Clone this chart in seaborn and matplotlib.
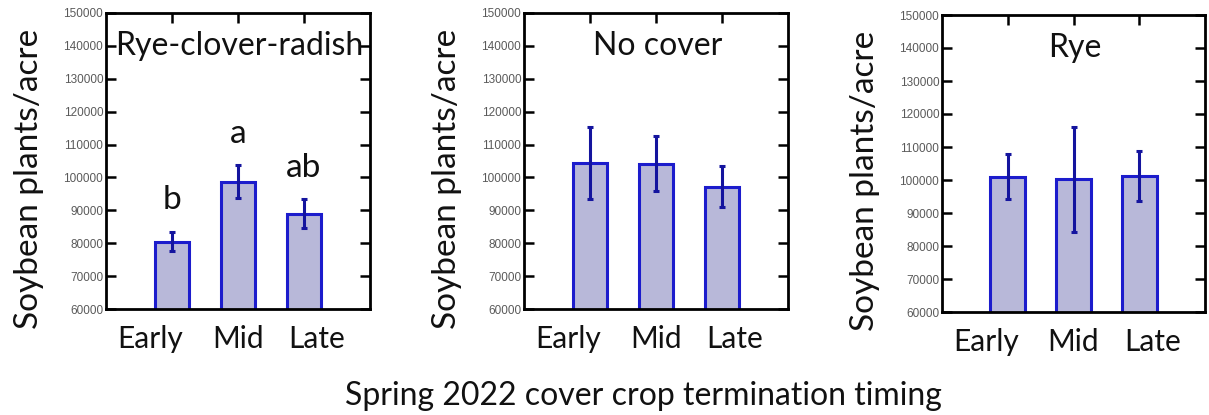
import numpy as np
import pandas as pd
import matplotlib
matplotlib.use("Agg")
import matplotlib.pyplot as plt
import matplotlib.transforms as mtransforms
import seaborn as sns

# Termination timing categories
timing = ["Early", "Mid", "Late"]

# Cover crop treatments (one panel each)
treatments = ["Rye-clover-radish", "No cover", "Rye"]

# Mean soybean stand (plants/acre) per timing
rcr_mean = [80500, 98700, 89000]
nocover_mean = [104400, 104200, 97200]
rye_mean = [101000, 100200, 101200]

# Error bar half-widths
rcr_err = [3000, 5000, 4300]
nocover_err = [11000, 8300, 6200]
rye_err = [6900, 16000, 7700]

# Mean separation letters (only the first treatment differed)
rcr_letters = ["b", "a", "ab"]

y_ticks = list(range(60000, 150001, 10000))

means = [rcr_mean, nocover_mean, rye_mean]
errs = [rcr_err, nocover_err, rye_err]
letters = [rcr_letters, None, None]

df = pd.DataFrame({
    "treatment": np.repeat(treatments, len(timing)),
    "timing": timing * len(treatments),
    "plants": np.concatenate(means),
    "err": np.concatenate(errs),
})

sns.set_theme(style="white")
plt.rcParams["font.family"] = ["Lato", "DejaVu Sans"]

fig = plt.figure(figsize=(12.09, 4.15), dpi=100)
W, H = 1209, 415
boxes = [(106, 13, 370, 309), (524, 13, 788, 309), (942, 15, 1205, 312)]

face = "#b8b8d9"
edge = "#1c1ccc"
errc = "#14149e"

# horizontal nudges (pixels) for the timing labels under the bars
label_shift = [-22, 0, 13]

for i, (name, box) in enumerate(zip(treatments, boxes)):
    x0, y0, x1, y1 = box
    ax = fig.add_axes([x0 / W, 1 - y1 / H, (x1 - x0) / W, (y1 - y0) / H])
    sub = df[df["treatment"] == name]
    sns.barplot(data=sub, x="timing", y="plants", order=timing, ax=ax,
                color=face, saturation=1, width=0.53, errorbar=None,
                edgecolor=edge, linewidth=2.2)
    xs = np.arange(len(timing))
    ax.errorbar(xs, sub["plants"].values, yerr=sub["err"].values, fmt="none",
                ecolor=errc, elinewidth=2.2, capsize=2.2, capthick=2.2, zorder=5)
    ax.set_xlim(-1, 3)
    ax.set_ylim(60000, 150000)
    ax.set_yticks(y_ticks)
    ax.set_yticklabels([str(t) for t in y_ticks], family="Liberation Sans",
                       fontsize=8.5, color="#5a5a5a")
    ax.set_xticks(xs)
    ax.set_xticklabels([])
    # timing labels, drawn as text so each can be nudged sideways
    base = mtransforms.blended_transform_factory(ax.transData, ax.transAxes)
    for x, lab, dx in zip(xs, timing, label_shift):
        tr = base + mtransforms.ScaledTranslation(dx / 100, -15.5 / 100, fig.dpi_scale_trans)
        ax.text(x, 0, lab, transform=tr, ha="center", va="top",
                fontsize=21.5, color="#111111")
    ax.set_xlabel("")
    ax.set_ylabel("Soybean plants/acre", fontsize=24, color="#111111")
    ax.yaxis.set_label_coords(-0.235, 0.44)
    ax.tick_params(axis="y", which="both", direction="in", length=7, width=1.8,
                   left=True, right=True, pad=2, color="black")
    ax.tick_params(axis="x", direction="in", length=7, width=1.8,
                   top=True, bottom=False, color="black")
    for s in ax.spines.values():
        s.set_visible(True)
        s.set_color("black")
        s.set_linewidth(2.0)
    ax.text(0.505, 0.89, name, transform=ax.transAxes, ha="center", va="center",
            fontsize=23, color="#111111")
    if letters[i] is not None:
        for x, m, e, lab in zip(xs, sub["plants"].values, sub["err"].values, letters[i]):
            ax.text(x, m + e + 6800, lab, ha="center", va="baseline",
                    fontsize=24, color="#111111")

fig.text(643 / W, 1 - 405 / H, "Spring 2022 cover crop termination timing",
         ha="center", va="baseline", fontsize=23, color="#111111")

fig.savefig("out.png", dpi=100, facecolor="white")
